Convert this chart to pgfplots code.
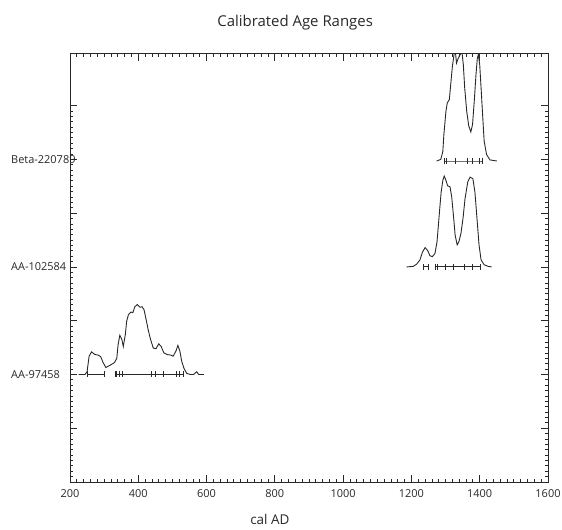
\documentclass[border=0pt]{standalone}
\usepackage{fontspec}
\setmainfont{Open Sans}
\usepackage{pgfplots}
\pgfplotsset{compat=1.18}
\definecolor{ink}{RGB}{40,40,40}
\begin{document}
\begin{tikzpicture}
\begin{axis}[
    scale only axis,
    width=478bp, height=428bp,
    xmin=200, xmax=1600,
    ymin=0, ymax=7.96,
    xtick={200,400,...,1600},
    ytick={0,1,...,7},
    yticklabels={,,AA-97458,,AA-102584,,Beta-220789,},
    minor x tick num=9,
    minor y tick num=9,
    tick align=inside,
    tick pos=both,
    xticklabel pos=lower,
    yticklabel pos=left,
    major tick length=7bp,
    minor tick length=3bp,
    axis line style={ink, line width=1pt},
    every tick/.style={ink, line width=0.8pt},
    /pgf/number format/assume math mode=true,
    /pgf/number format/1000 sep={},
    xticklabel style={font=\fontsize{11}{13}\selectfont, text=ink, yshift=-4bp},
    yticklabel style={font=\fontsize{11}{13}\selectfont, text=ink, anchor=west, inner sep=0pt, xshift=-59bp},
    title={Calibrated Age Ranges},
    title style={font=\fontsize{15}{18}\selectfont, text=ink, at={(0.471,1)}, anchor=base, yshift=22bp},
    xlabel={cal AD},
    xlabel style={font=\fontsize{13.5}{16}\selectfont, text=ink, at={(0.418,0)}, anchor=base, yshift=-42bp},
    every axis plot/.append style={ink, line width=0.9pt},
]
% AA-97458 (baseline 2)
\addplot[no marks] coordinates {
 (225,2)(244,2)(250,2.05)(256,2.34)(263,2.42)(273,2.37)(283,2.36)(290,2.33)(297,2.22)(305,2.13)
 (317,2.17)(330,2.22)(337,2.30)(341,2.56)(346,2.73)(352,2.65)(356,2.52)(362,2.74)(366,2.99)(371,3.11)
 (378,3.16)(384,3.15)(390,3.26)(397,3.30)(405,3.25)(411,3.26)(417,3.20)(423,3.02)(429,2.83)(436,2.65)
 (444,2.49)(452,2.48)(460,2.57)(467,2.52)(475,2.40)(485,2.37)(495,2.36)(502,2.34)(510,2.43)(516,2.54)
 (522,2.43)(527,2.25)(534,2.11)(542,2.02)(552,2)(562,2)(571,2.05)(577,2)(592,2)
};
\addplot[mark=|, mark size=3bp] coordinates {(251,2)(300,2)};
\addplot[mark=|, mark size=3bp] coordinates {
 (332,2)(337,2)(344,2)(354,2)(439,2)(449,2)(473,2)(512,2)(520,2)(532,2)
};
% AA-102584 (baseline 4)
\addplot[no marks] coordinates {
 (1186,4)(1205,4.01)(1215,4.05)(1225,4.13)(1232,4.27)(1240,4.36)(1248,4.30)(1254,4.21)(1261,4.19)(1269,4.25)
 (1275,4.47)(1279,4.78)(1283,5.09)(1287,5.39)(1292,5.61)(1296,5.69)(1301,5.61)(1306,5.51)(1313,5.49)(1318,5.30)
 (1323,4.96)(1328,4.59)(1334,4.41)(1339,4.47)(1345,4.62)(1351,4.90)(1357,5.27)(1365,5.58)(1372,5.67)(1380,5.64)
 (1386,5.39)(1392,4.90)(1398,4.41)(1404,4.13)(1413,4.04)(1425,4.01)(1435,4)
};
\addplot[mark=|, mark size=3bp] coordinates {(1235,4)(1250,4)};
\addplot[mark=|, mark size=3bp] coordinates {
 (1271,4)(1275,4)(1300,4)(1323,4)(1355,4)(1378,4)(1401,4)
};
% Beta-220789 (baseline 6)
\addplot[no marks] coordinates {
 (1274,5.97)(1286,6.0)(1292,6.15)(1295,6.46)(1301,6.89)(1305,7.05)(1311,7.11)(1315,7.39)(1320,7.73)(1325,7.96)
 (1328,8.05)(1332,7.79)(1337,7.88)(1342,7.94)(1348,8.0)(1352,7.76)(1356,7.33)(1362,6.89)(1368,6.62)(1374,6.51)
 (1379,6.65)(1384,7.08)(1389,7.57)(1393,7.88)(1396,7.95)(1400,7.76)(1404,7.33)(1409,6.77)(1413,6.34)(1420,6.09)
 (1430,5.99)(1450,5.97)
};
\addplot[mark=|, mark size=3bp] coordinates {
 (1297,5.97)(1302,5.97)(1330,5.97)(1364,5.97)(1380,5.97)(1400,5.97)(1409,5.97)
};
\end{axis}
\pgfresetboundingbox
\path[use as bounding box] (current axis.south west) ++(-70bp,-48bp) rectangle ++(562bp,530bp);
\end{tikzpicture}
\end{document}
